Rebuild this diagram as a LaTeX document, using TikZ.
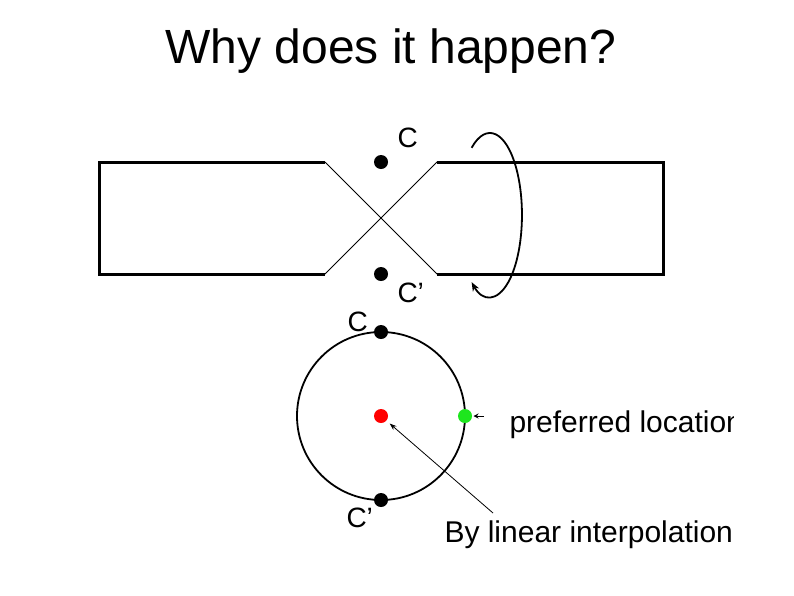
\documentclass[tikz,border=0pt]{standalone}
\usepackage{fontspec}
\setmainfont{Liberation Sans}
\usetikzlibrary{arrows.meta}
\definecolor{dotgreen}{RGB}{30,230,30}
\tikzset{
  dot/.style={circle, fill=black, inner sep=0pt, minimum size=14pt},
  lbl/.style={font=\fontsize{28}{32}\selectfont, inner sep=0pt, anchor=base west},
  txt/.style={font=\fontsize{30}{35}\selectfont, inner sep=0pt, anchor=base west},
  thin line/.style={line width=0.8pt},
}
\begin{document}
\begin{tikzpicture}[x=1pt, y=-1pt, line width=3pt]
  \useasboundingbox (0,0) rectangle (794,595);
  \node[font=\fontsize{48}{56}\selectfont, inner sep=0pt, anchor=base west] (title) at (164,63) {Why does it happen?};
  % twisted bar
  \draw (325,162) -- (99,162) -- (99,274) -- (325,274);
  \draw (437,162) -- (663,162) -- (663,274) -- (437,274);
  \draw[thin line] (325,162) -- (437,274);
  \draw[thin line] (325,274) -- (437,162);
  \draw[line width=1.8pt, -{Stealth[length=9pt,width=7pt]}] (471.6,147.8) arc[start angle=-125, end angle=125, x radius=32, y radius=82];
  \node[dot] (top) at (381,162) {};
  \node[dot] (bot) at (381,274) {};
  \node[lbl] (toplbl) at (396,147) {C};
  \node[lbl] (botlbl) at (396,302) {C'};
  % circle of positions
  \draw[line width=1.8pt] (381,416) circle (84pt);
  \node[dot] (ctop) at (381,332) {};
  \node[dot] (cbot) at (381,500) {};
  \node[dot, fill=red] (mid) at (381,416) {};
  \node[dot, fill=dotgreen] (pref) at (465,416) {};
  \node[lbl] (ctoplbl) at (346,331) {C};
  \node[lbl] (cbotlbl) at (345,527) {C'};
  \begin{scope}
    \clip (500,395) rectangle (733,445);
    \node[txt] (preflbl) at (508,432) {preferred location};
  \end{scope}
  \node[txt] (interp) at (443,542) {By linear interpolation};
  \coordinate (preftail) at (484,416);
  \coordinate (interptail) at (493,513);
  \draw[thin line, -{Stealth[length=5pt,width=5pt]}] (preftail) -- (pref);
  \draw[thin line, -{Stealth[length=7pt,width=5pt]}, shorten >=3pt] (interptail) -- (mid);
\end{tikzpicture}
\end{document}
